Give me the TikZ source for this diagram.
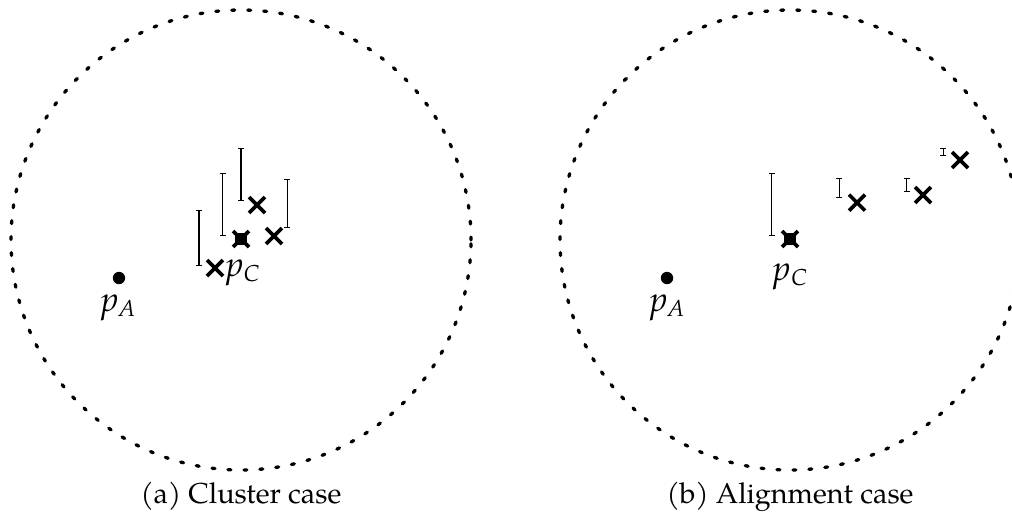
\documentclass[tikz,border=0pt]{standalone}
\usepackage{fontspec}
\setmainfont{TeX Gyre Pagella}
\usetikzlibrary{shapes.misc,arrows.meta}
\tikzset{
  region/.style={line width=1.15pt, line cap=round, dash pattern=on 1.0pt off 4.55pt},
  xmark/.style={cross out, draw, line width=1.25pt, minimum size=4.3pt, inner sep=0pt},
  sqmark/.style={rectangle, fill, minimum size=4.1pt, inner sep=0pt},
  dotmark/.style={circle, fill, minimum size=4.3pt, inner sep=0pt},
  ebar/.style={line width=0.36pt, {Bar[width=2.1pt,line width=0.36pt]}-{Bar[width=2.1pt,line width=0.36pt]}},
  lbl/.style={inner sep=0pt, font=\large},
}
\begin{document}
\begin{tikzpicture}[x=0.3472pt, y=-0.3472pt]
\useasboundingbox (0,0) rectangle (1012,516);
% ---------- (a) cluster case ----------
\draw[region] (241,240) circle [radius=79.86pt];
\node[dotmark] (pa1) at (119,278) {};
\node[lbl, anchor=base] (la1) at (119,311) {$\mathit{p}_{\mathit{A}}$};
\node[sqmark] (pc1) at (241,239) {};
\node[xmark] (pc1x) at (241,239) {};
\node[xmark] (a1) at (215,268) {};
\node[xmark] (a2) at (257,205) {};
\node[xmark] (a3) at (274,236) {};
\node[lbl, anchor=base west] (lc1) at (226,276) {$\mathit{p}_{\mathit{C}}$};
\draw[ebar] (199,210) -- (199,266);
\draw[ebar] (222.7,172.7) -- (222.7,236);
\draw[ebar] (241,147.7) -- (241,200.7);
\draw[ebar] (287.3,178.7) -- (287.3,228.3);
\node[inner sep=0pt, anchor=base] (capa) at (241,503) {(a) Cluster case};
% ---------- (b) alignment case ----------
\draw[region] (790,240) circle [radius=79.86pt];
\node[dotmark] (pa2) at (667,278) {};
\node[lbl, anchor=base] (la2) at (668,311) {$\mathit{p}_{\mathit{A}}$};
\node[sqmark] (pc2) at (790,239) {};
\node[xmark] (pc2x) at (790,239) {};
\node[lbl, anchor=base] (lc2) at (791,280) {$\mathit{p}_{\mathit{C}}$};
\node[xmark] (b1) at (857,202.7) {};
\node[xmark] (b2) at (923,195) {};
\node[xmark] (b3) at (960,160) {};
\draw[ebar] (771.7,172.7) -- (771.7,235.7);
\draw[ebar] (839.3,178.3) -- (839.3,198.3);
\draw[ebar] (906.7,178.3) -- (906.7,192.3);
\draw[ebar] (943.3,148.3) -- (943.3,156);
\node[inner sep=0pt, anchor=base] (capb) at (790,503) {(b) Alignment case};
\end{tikzpicture}
\end{document}
